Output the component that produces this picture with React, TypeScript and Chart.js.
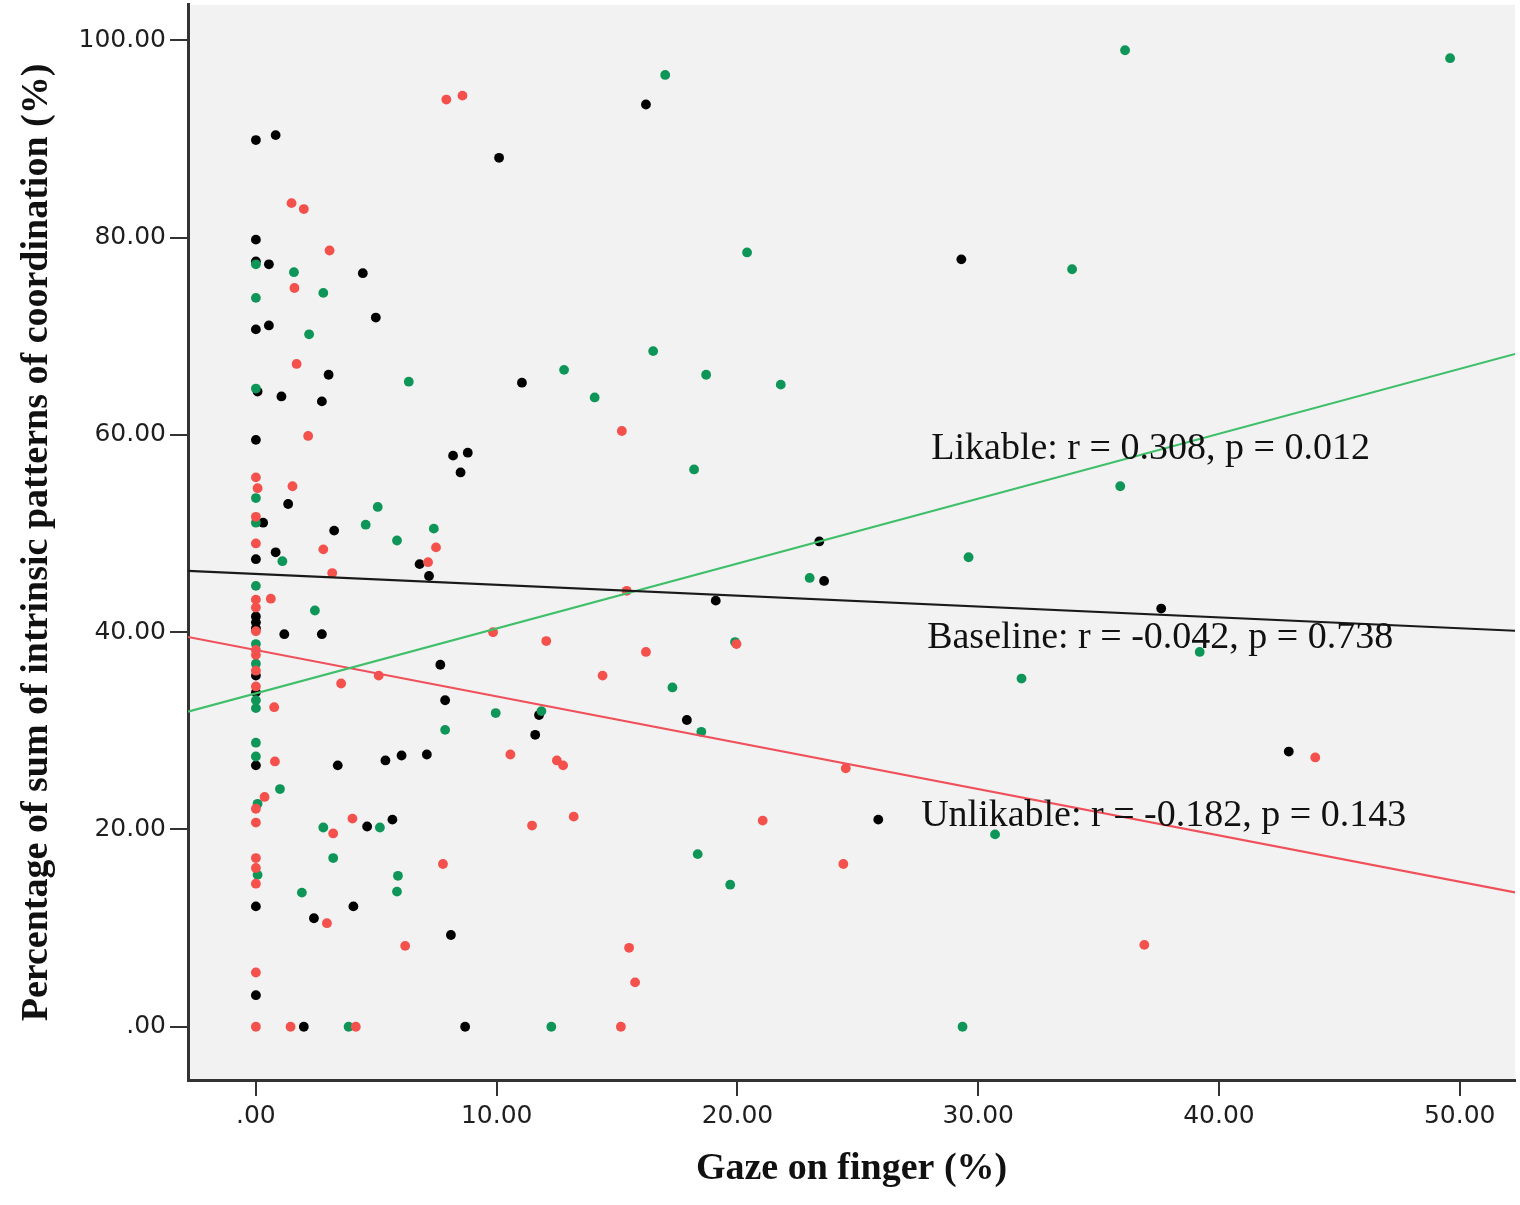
import React, { useEffect, useRef } from 'react';
import { Chart, registerables } from 'chart.js';

Chart.register(...registerables);

// ---- data ----
const xTickValues = [0, 10, 20, 30, 40, 50];
const yTickValues = [0, 20, 40, 60, 80, 100];

const baselinePoints: [number, number][] = [
  [0, 89.9], [0.82, 90.4], [16.2, 93.5], [10.1, 88.1], [0, 79.8], [0, 77.6], [0.54, 77.3],
  [4.44, 76.4], [29.3, 77.8], [4.98, 71.9], [0, 70.7], [0.54, 71.1], [3.02, 66.1], [0.07, 64.4],
  [1.06, 63.9], [2.74, 63.4], [11.05, 65.3], [0, 59.5], [8.19, 57.9], [8.8, 58.2], [8.5, 56.2],
  [1.34, 53.0], [0.3, 51.1], [3.25, 50.3], [0.82, 48.1], [0, 47.4], [6.8, 46.9], [7.19, 45.7],
  [23.4, 49.2], [23.6, 45.2], [19.1, 43.2], [37.6, 42.4], [0, 41.6], [0, 41.0], [0, 40.4],
  [1.18, 39.8], [2.74, 39.8], [7.66, 36.7], [0, 35.6], [0, 33.9], [7.86, 33.1], [11.76, 31.6],
  [17.9, 31.1], [11.6, 29.6], [42.9, 27.9], [0, 26.5], [3.4, 26.5], [5.38, 27.0], [6.05, 27.5],
  [7.1, 27.6], [25.85, 21.0], [4.62, 20.3], [5.67, 21.0], [0, 12.2], [4.05, 12.2], [2.41, 11.0],
  [8.1, 9.3], [0, 3.2], [1.99, 0], [8.69, 0],
];

const unlikablePoints: [number, number][] = [
  [7.91, 94.0], [8.58, 94.4], [1.48, 83.5], [1.99, 82.9], [3.06, 78.7], [1.6, 74.9], [1.69, 67.2],
  [2.17, 59.9], [15.2, 60.4], [0, 55.7], [0.07, 54.6], [1.52, 54.8], [0, 51.7], [0, 49.0],
  [2.8, 48.4], [7.48, 48.6], [7.15, 47.1], [3.17, 46.0], [15.4, 44.2], [0, 43.3], [0.62, 43.4],
  [0, 42.5], [0, 40.1], [9.85, 40.0], [12.06, 39.1], [16.2, 38.0], [19.96, 38.8], [0, 38.2],
  [0, 37.7], [0, 36.1], [0, 34.5], [5.1, 35.6], [3.54, 34.8], [14.4, 35.6], [0.76, 32.4],
  [0.79, 26.9], [10.57, 27.6], [12.5, 27.0], [12.76, 26.5], [24.5, 26.2], [44.0, 27.3],
  [0.36, 23.3], [0, 22.1], [0, 20.7], [4.01, 21.1], [3.21, 19.6], [11.47, 20.4], [13.2, 21.3],
  [21.05, 20.9], [0, 17.1], [0, 16.1], [0, 14.5], [7.77, 16.5], [24.4, 16.5], [2.95, 10.5],
  [6.2, 8.2], [15.5, 8.0], [36.9, 8.3], [0, 5.5], [15.75, 4.5], [0, 0], [1.44, 0], [4.15, 0],
  [15.16, 0],
];

const likablePoints: [number, number][] = [
  [17.0, 96.5], [36.1, 99.0], [49.6, 98.2], [20.4, 78.5], [33.9, 76.8], [0, 77.3], [1.58, 76.5],
  [2.8, 74.4], [0, 73.9], [2.21, 70.2], [16.5, 68.5], [12.8, 66.6], [18.7, 66.1], [21.8, 65.1],
  [6.35, 65.4], [0, 64.7], [14.07, 63.8], [18.2, 56.5], [35.9, 54.8], [0, 53.6], [5.06, 52.7],
  [0, 51.1], [4.56, 50.9], [7.39, 50.5], [5.86, 49.3], [1.1, 47.2], [29.6, 47.6], [23.0, 45.5],
  [0, 44.7], [2.45, 42.2], [0, 38.8], [19.9, 39.0], [39.2, 38.0], [0, 36.8], [31.8, 35.3],
  [17.3, 34.4], [0, 33.1], [0, 32.3], [9.96, 31.8], [11.86, 32.0], [7.86, 30.1], [18.5, 29.9],
  [0, 28.8], [0, 27.4], [1.0, 24.1], [0.07, 22.6], [2.8, 20.2], [5.15, 20.2], [30.7, 19.5],
  [3.21, 17.1], [18.35, 17.5], [0.07, 15.4], [5.9, 15.3], [5.86, 13.7], [1.91, 13.6],
  [19.7, 14.4], [3.85, 0], [12.27, 0], [29.35, 0],
];

// regression fits (intercept, slope)
const fitBaseline = [45.9, -0.110];
const fitLikable = [33.8, 0.658];
const fitUnlikable = [38.2, -0.47];

const noteTexts = [
  'Likable: r = 0.308, p = 0.012',
  'Baseline: r = -0.042, p = 0.738',
  'Unlikable: r = -0.182, p = 0.143',
];

// ---- layout / style ----
const X_MIN = -2.82;
const X_MAX = 52.3;
const Y_MIN = -5.4;
const Y_MAX = 103.6;
const noteAnchors = [
  { x: 28.05, y: 57.6 },
  { x: 27.88, y: 38.4 },
  { x: 27.63, y: 20.4 },
];

const BLACK = '#000000';
const RED = '#f4504c';
const GREEN = '#0e9658';

const toXY = (pts: [number, number][]) => pts.map(([x, y]) => ({ x, y }));
const fitLine = (f: number[]) => [
  { x: X_MIN, y: f[0] + f[1] * X_MIN },
  { x: X_MAX, y: f[0] + f[1] * X_MAX },
];
const fmt = (v: any) => (Number(v) === 0 ? '.00' : Number(v).toFixed(2));
const noPad = (s: any) => {
  s.paddingTop = 0;
  s.paddingBottom = 0;
  s.paddingLeft = 0;
  s.paddingRight = 0;
};

export default function App() {
  const ref = useRef<HTMLCanvasElement>(null);

  useEffect(() => {
    document.body.style.margin = '0';
    const canvas = ref.current!;

    const bgPlugin = {
      id: 'plotBg',
      beforeDraw(chart: any) {
        const { ctx, chartArea: a } = chart;
        ctx.save();
        ctx.fillStyle = '#f2f2f2';
        ctx.fillRect(a.left, a.top, a.right - a.left, a.bottom - a.top);
        ctx.restore();
      },
    };

    const notesPlugin = {
      id: 'notes',
      afterDatasetsDraw(chart: any) {
        const { ctx, scales } = chart;
        ctx.save();
        ctx.font = '38px "Liberation Serif"';
        ctx.fillStyle = '#111111';
        ctx.textAlign = 'left';
        ctx.textBaseline = 'alphabetic';
        noteTexts.forEach((t, i) => {
          const px = scales.x.getPixelForValue(noteAnchors[i].x);
          const py = scales.y.getPixelForValue(noteAnchors[i].y);
          ctx.fillText(t, px, py);
        });
        ctx.restore();
      },
    };

    const scatterDs = (label: string, pts: [number, number][], color: string, order: number) => ({
      label,
      data: toXY(pts),
      backgroundColor: color,
      borderColor: color,
      borderWidth: 0,
      pointRadius: 4.9,
      pointHoverRadius: 4.9,
      showLine: false,
      order,
    });
    const lineDs = (label: string, f: number[], color: string, width: number) => ({
      label,
      data: fitLine(f),
      borderColor: color,
      backgroundColor: color,
      borderWidth: width,
      pointRadius: 0,
      showLine: true,
      order: -1,
    });

    const chart = new Chart(canvas, {
      type: 'scatter',
      data: {
        datasets: [
          scatterDs('Unlikable', unlikablePoints, RED, 1),
          scatterDs('Likable', likablePoints, GREEN, 2),
          scatterDs('Baseline', baselinePoints, BLACK, 3),
          lineDs('Baseline fit', fitBaseline, '#1a1a1a', 2.2),
          lineDs('Likable fit', fitLikable, '#3fbf6a', 2),
          lineDs('Unlikable fit', fitUnlikable, '#f0505a', 2),
        ] as any,
      },
      options: {
        responsive: false,
        animation: false,
        layout: { padding: { left: 0, right: 3, top: 3, bottom: 0 } },
        plugins: { legend: { display: false }, tooltip: { enabled: false } },
        scales: {
          x: {
            type: 'linear',
            min: X_MIN,
            max: X_MAX,
            afterBuildTicks: (s: any) => {
              s.ticks = xTickValues.map((v) => ({ value: v }));
            },
            afterFit: (s: any) => {
              s.height = 125;
              noPad(s);
            },
            grid: {
              display: true,
              drawOnChartArea: false,
              drawTicks: true,
              tickLength: 16,
              color: '#333333',
              lineWidth: 2,
            },
            border: { display: true, color: '#333333', width: 3 },
            ticks: {
              font: { family: 'DejaVu Sans', size: 25 },
              color: '#1e1e1e',
              padding: 5,
              maxRotation: 0,
              autoSkip: false,
              callback: fmt,
            },
            title: {
              display: true,
              text: 'Gaze on finger (%)',
              font: { family: 'Liberation Serif', size: 38, weight: 'bold' },
              color: '#111111',
              padding: { top: 0, bottom: 13 },
            },
          },
          y: {
            type: 'linear',
            min: Y_MIN,
            max: Y_MAX,
            afterBuildTicks: (s: any) => {
              s.ticks = yTickValues.map((v) => ({ value: v }));
            },
            afterFit: (s: any) => {
              s.width = 188;
              noPad(s);
            },
            grid: {
              display: true,
              drawOnChartArea: false,
              drawTicks: true,
              tickLength: 18,
              color: '#333333',
              lineWidth: 2,
            },
            border: { display: true, color: '#333333', width: 3 },
            ticks: {
              font: { family: 'DejaVu Sans', size: 25 },
              color: '#1e1e1e',
              padding: 4,
              autoSkip: false,
              callback: fmt,
            },
            title: {
              display: true,
              text: 'Percentage of sum of intrinsic patterns of coordination (%)',
              font: { family: 'Liberation Serif', size: 38, weight: 'bold' },
              color: '#111111',
              padding: { top: 14, bottom: 0 },
            },
          },
        },
      } as any,
      plugins: [bgPlugin, notesPlugin],
    });

    return () => chart.destroy();
  }, []);

  return (
    <div style={{ position: 'fixed', left: 0, top: 0, width: 1520, height: 1205, background: '#ffffff' }}>
      <canvas ref={ref} width={1520} height={1205} style={{ display: 'block', width: 1520, height: 1205 }} />
    </div>
  );
}
